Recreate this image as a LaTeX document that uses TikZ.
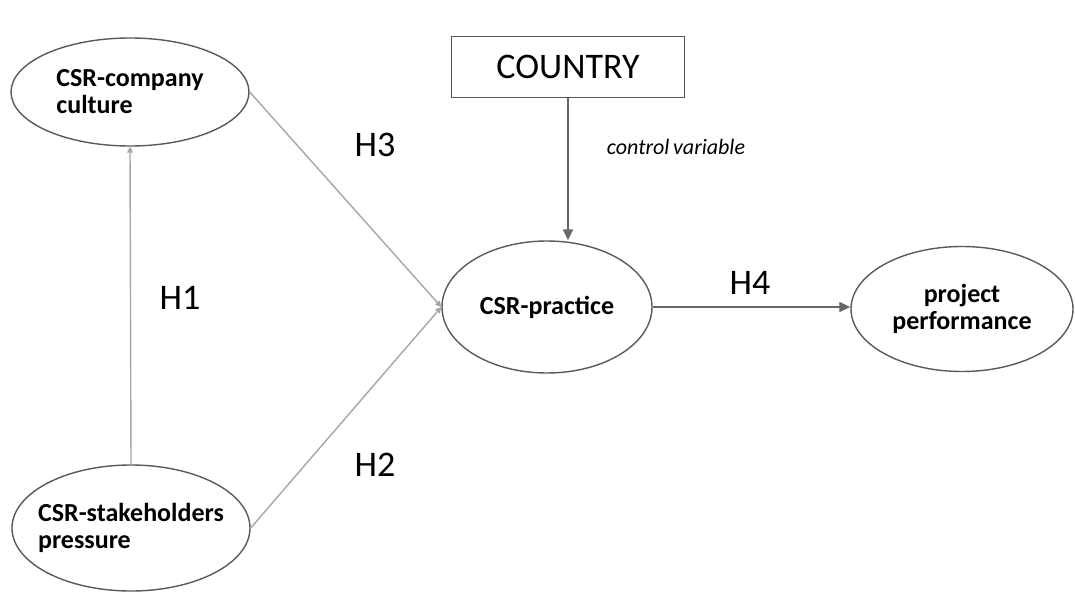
\documentclass[tikz,border=0pt]{standalone}
\usepackage{fontspec}
\setmainfont{Carlito}
\usepackage{tikz}
\usetikzlibrary{shapes.geometric, positioning, arrows.meta}

\begin{document}
\begin{tikzpicture}[x=1pt, y=-1pt,
    construct/.style={ellipse, draw=black!65, line width=1.4pt, inner sep=0pt,
        font=\fontsize{26}{27}\selectfont\bfseries},
    hyp/.style={font=\fontsize{36}{36}\selectfont},
    thin link/.style={draw=black!35, line width=1.4pt, -{Triangle[length=6pt, width=6pt]}},
    dark link/.style={draw=black!60, line width=1.6pt, -{Triangle[length=11pt, width=10pt]}}]
    \useasboundingbox (0,0) rectangle (1075,593);
    % Define constructs
    \node[construct, minimum width=238pt, minimum height=108pt, align=left] (cult) at (130,92) {CSR-company\\culture};
    \node[construct, minimum width=238pt, minimum height=126pt, inner xsep=-10pt, align=left] (press) at (131,528) {CSR-stakeholders\\pressure};
    \node[construct, minimum width=210pt, minimum height=132pt] (prac) at (547,307) {CSR-practice};
    \node[construct, minimum width=222pt, minimum height=125pt, align=center] (perf) at (962,309) {project\\performance};
    \node[draw=black!65, line width=1.4pt, minimum width=233pt, minimum height=61pt,
        font=\fontsize{36}{36}\selectfont] (ctry) at (568,67) {COUNTRY};

    % Define hypotheses
    \node[hyp] (h1) at (180,298) {H1};
    \node[hyp] (h2) at (375,465) {H2};
    \node[hyp] (h3) at (375,145) {H3};
    \node[hyp] (h4) at (750,283) {H4};
    \node[font=\fontsize{22}{22}\selectfont\itshape] (ctrl) at (676,147) {control\,variable};

    % Define paths
    \draw[thin link] (press.north) -- (cult.south);
    \draw[thin link] (cult.east) -- (prac.west);
    \draw[thin link] (press.east) -- (prac.west);
    \draw[dark link] (ctry.south) -- (prac.north -| ctry.south);
    \draw[dark link] (prac.east) -- (prac.east -| perf.west);
\end{tikzpicture}
\end{document}
